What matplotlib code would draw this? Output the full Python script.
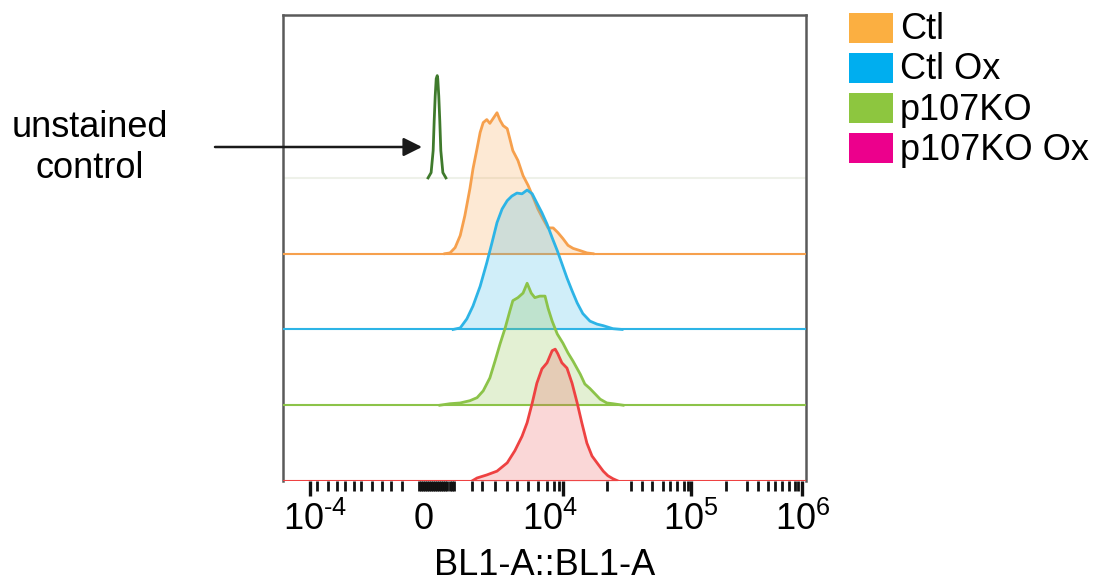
import matplotlib
matplotlib.use("Agg")
import matplotlib.pyplot as plt
from matplotlib.patches import Rectangle

plt.rcParams["font.family"] = ["Liberation Sans", "DejaVu Sans"]
plt.rcParams["mathtext.fontset"] = "custom"
plt.rcParams["mathtext.rm"] = "Liberation Sans"
plt.rcParams["mathtext.it"] = "Liberation Sans:italic"
plt.rcParams["mathtext.default"] = "regular"

# ---- histogram data (channel, normalised count) ----
unstained_x = [284, 290, 294, 296, 298, 300, 302, 303, 305, 307, 309, 313, 319]
unstained_y = [0, 7, 36, 75, 108, 131, 135, 131, 108, 75, 36, 7, 0]

ctl_x = [317, 327, 337, 347, 356, 366, 372, 380, 386, 392, 399, 405, 411, 419, 425,
         431, 439, 444, 450, 460, 470, 480, 490, 499, 509, 519, 529, 538, 548, 558,
         568, 582, 595, 607]
ctl_y = [0, 1, 8, 24, 50, 86, 112, 139, 160, 173, 177, 172, 178, 186, 176,
         169, 165, 152, 136, 123, 103, 90, 74, 59, 46, 34, 34, 28, 20, 11,
         7, 4, 1, 0]

ctl_ox_x = [333, 347, 360, 372, 386, 399, 409, 419, 429, 439, 448, 458, 468, 478, 488,
            497, 507, 517, 527, 537, 546, 556, 566, 576, 587, 601, 615, 627, 646, 664]
ctl_ox_y = [0, 2, 14, 31, 57, 88, 114, 141, 159, 170, 176, 180, 179, 184, 179,
            167, 154, 139, 121, 104, 87, 68, 51, 35, 21, 11, 7, 5, 1, 0]

ko_x = [307, 327, 347, 366, 380, 392, 405, 415, 425, 435, 444, 450, 460, 470, 478,
        486, 493, 503, 513, 519, 527, 537, 548, 558, 568, 582, 591, 601, 611, 621,
        634, 646, 666]
ko_y = [0, 2, 3, 6, 10, 19, 36, 58, 81, 102, 124, 138, 142, 148, 161,
        148, 142, 144, 144, 128, 111, 94, 82, 69, 58, 41, 28, 22, 15, 8,
        3, 2, 0]

ko_ox_x = [370, 380, 399, 419, 439, 454, 468, 478, 488, 497, 507, 517, 527, 533, 538,
           546, 556, 566, 576, 585, 595, 605, 617, 627, 636, 646, 656]
ko_ox_y = [0, 4, 8, 13, 24, 40, 59, 77, 103, 129, 148, 156, 172, 174, 168,
           156, 149, 129, 103, 77, 50, 33, 22, 13, 7, 3, 0]

# vertical offsets of the stacked rows
offsets = [400, 300, 200, 100, 0]

legend_labels = ["Ctl", "Ctl Ox", "p107KO", "p107KO Ox"]
legend_colors = ["#FBAF41", "#00AEEF", "#8DC63F", "#EC008C"]

line_colors = ["#3F7A2C", "#F6A04D", "#2DB4E6", "#8CC349", "#EE4242"]
fill_colors = ["#FFFFFF", "#F9A34F", "#3DB8E6", "#8CC349", "#EE5A5A"]
baseline_colors = ["#EEF1E9", "#F6A04D", "#2DB4E6", "#8CC349", "#EE4242"]

# axis ticks (channel positions)
tick_label_pos = [63, 276, 523, 799, 1018]
tick_labels = ["$10^{\u20104}$", "0", "$10^{4}$", "$10^{5}$", "$10^{6}$"]
major_tick_pos = [53, 548, 799, 1016]
minor_tick_pos = [67, 88, 106, 121, 139, 153, 174, 194, 212, 233,
                  266, 270, 274, 278, 282, 286, 290, 294, 298, 302, 306, 310,
                  314, 318, 322, 326, 330, 334,
                  370, 390, 415, 439, 458, 480, 499, 517, 531, 540,
                  634, 681, 703, 723, 744, 758, 771, 785, 793,
                  867, 909, 930, 950, 963, 977, 991, 1002, 1008]

W, H = 1097, 581
fig = plt.figure(figsize=(W / 100, H / 100), dpi=100)
ax = fig.add_axes([283 / W, 1 - 481 / H, 523 / W, 466 / H])
ax.set_xlim(0, 1024)
ax.set_ylim(0, 615)

series = [(unstained_x, unstained_y), (ctl_x, ctl_y), (ctl_ox_x, ctl_ox_y),
          (ko_x, ko_y), (ko_ox_x, ko_ox_y)]

for i, ((xs, ys), off) in enumerate(zip(series, offsets)):
    top = [off + v for v in ys]
    ax.axhline(off, color=baseline_colors[i], lw=1.5, zorder=2 + i)
    if i > 0:
        ax.fill_between(xs, off, top, color=fill_colors[i], alpha=0.24,
                        lw=0, zorder=2 + i)
    ax.plot(xs, top, color=line_colors[i], lw=2.0,
            solid_joinstyle="round", zorder=2.5 + i)

# spines
for side in ("left", "right", "top"):
    ax.spines[side].set_color("#5a5a5a")
    ax.spines[side].set_linewidth(1.8)
ax.spines["bottom"].set_visible(False)
ax.set_yticks([])

ax.set_xticks(tick_label_pos, tick_labels)
ax.set_xticks(minor_tick_pos, minor=True)
ax.tick_params(axis="x", which="major", length=0, pad=15, labelsize=26)
ax.tick_params(axis="x", which="minor", length=7, width=2, color="#111111")

sec = ax.secondary_xaxis("bottom")
sec.set_xticks(major_tick_pos)
sec.tick_params(length=11, width=2.4, color="#111111", labelbottom=False)
sec.spines["bottom"].set_visible(False)

ax.set_xlabel("BL1-A::BL1-A", fontsize=26, labelpad=7)

# legend
for k, (lab, col) in enumerate(zip(legend_labels, legend_colors)):
    y_top = 13 + 40 * k
    fig.add_artist(Rectangle((849 / W, 1 - (y_top + 30) / H), 44 / W, 30 / H,
                             transform=fig.transFigure, color=col, lw=0))
    fig.text(900 / W, 1 - (39 + 40.3 * k) / H, lab, fontsize=26,
             ha="left", va="baseline")

# annotation for the unstained sample
fig.text(90 / W, 1 - 148 / H, "unstained\ncontrol", fontsize=26, ha="center",
         va="center", linespacing=1.25)
ax.annotate("", xy=(422 / W, 1 - 147 / H), xytext=(215 / W, 1 - 147 / H),
            xycoords="figure fraction", textcoords="figure fraction",
            arrowprops=dict(arrowstyle="-|>", color="#1a1a1a", lw=1.8,
                            mutation_scale=28, shrinkA=0, shrinkB=0),
            annotation_clip=False)

fig.savefig("out.png", dpi=100)
